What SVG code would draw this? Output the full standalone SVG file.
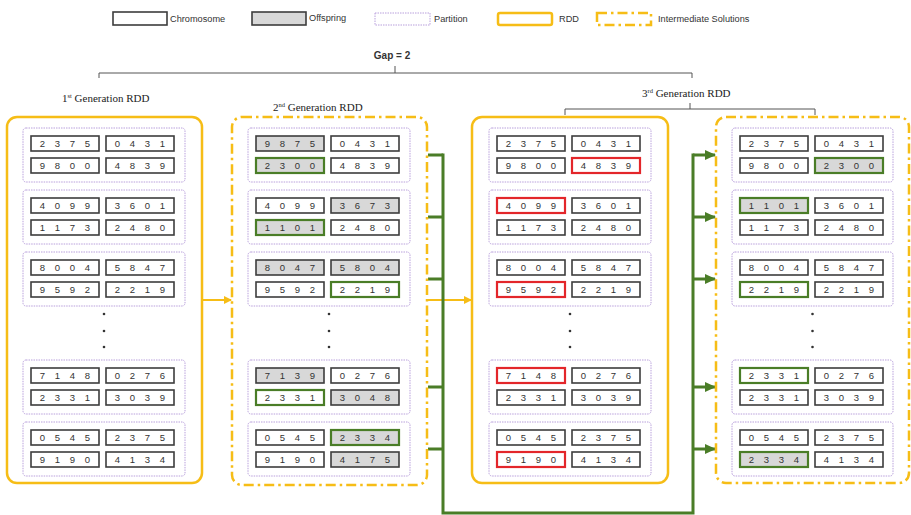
<svg xmlns="http://www.w3.org/2000/svg" width="911" height="515" viewBox="0 0 911 515">
<style>
text{font-family:"Liberation Sans",Arial,sans-serif;fill:#333}
.d{font-size:9.5px;text-anchor:middle}
.c{fill:#fff;stroke:#3d3d3d;stroke-width:1.6}
.o{fill:#d8d8d8;stroke:#3d3d3d;stroke-width:1.6}
.g{stroke:#4a7d27;stroke-width:2.2}
.r{fill:#fff;stroke:#e3262a;stroke-width:2.2}
.p{fill:none;stroke:#b9a0dc;stroke-width:1;stroke-dasharray:1.5 1}
.rdd{fill:none;stroke:#f6bd16;stroke-width:2.5}
.ins{fill:none;stroke:#f6bd16;stroke-width:2.5;stroke-dasharray:10 4 2.5 4}
.lg{font-size:9.2px;fill:#333}
.ti{font-family:"Liberation Serif","Times New Roman",serif;font-size:11px;fill:#222}
.br{fill:none;stroke:#555;stroke-width:1}
.dot{fill:#333}
.ya{stroke:#f6bd16;stroke-width:2;fill:none}
.gl{stroke:#4a7d27;stroke-width:3;fill:none}
</style>
<defs>
<marker id="ay" markerUnits="userSpaceOnUse" markerWidth="8" markerHeight="8" refX="7" refY="4" orient="auto"><path d="M0,0 L8,4 L0,8 z" fill="#f6bd16"/></marker>
<marker id="ag" markerUnits="userSpaceOnUse" markerWidth="11" markerHeight="10" refX="10" refY="5" orient="auto"><path d="M0,0 L11,5 L0,10 z" fill="#4a7d27"/></marker>
</defs>

<g id="legend">
<rect class="c" x="113" y="12" width="54" height="13"/><text class="lg" x="170" y="22">Chromosome</text>
<rect class="o" x="252" y="12" width="54" height="13"/><text class="lg" x="309" y="21">Offspring</text>
<rect class="p" x="375" y="13" width="55" height="12"/><text class="lg" x="434" y="22">Partition</text>
<rect class="rdd" x="498" y="13" width="54" height="12" rx="2"/><text class="lg" x="559" y="22">RDD</text>
<rect class="ins" x="597" y="13" width="54" height="12"/><text class="lg" x="658" y="22">Intermediate Solutions</text>
</g>

<g id="titles">
<text x="392" y="59" style="font-size:10px;font-weight:bold;text-anchor:middle">Gap = 2</text>
<path class="br" d="M99,78 V73 H692 V78 M395,73 V66"/>
<text class="ti" x="62" y="102">1<tspan font-size="6.5" dy="-4">st</tspan><tspan dy="4"> Generation RDD</tspan></text>
<text class="ti" x="273" y="111">2<tspan font-size="6.5" dy="-4">nd</tspan><tspan dy="4"> Generation RDD</tspan></text>
<text class="ti" x="642" y="97">3<tspan font-size="6.5" dy="-4">rd</tspan><tspan dy="4"> Generation RDD</tspan></text>
<path class="br" d="M565,115 V109 H815 V115 M690,109 V103"/>
</g>

<g id="connectors">
<line class="ya" x1="203" y1="300" x2="231" y2="300" marker-end="url(#ay)"/>
<line class="ya" x1="428" y1="300" x2="471" y2="300" marker-end="url(#ay)"/>
<path class="gl" d="M428,155 H443 M428,217 H443 M428,279 H443 M428,387 H443 M428,449 H443"/>
<path class="gl" d="M443,153.5 V513 H693 V153.5"/>
<path class="gl" d="M693,155 H715" marker-end="url(#ag)"/>
<path class="gl" d="M693,217 H715" marker-end="url(#ag)"/>
<path class="gl" d="M693,279 H715" marker-end="url(#ag)"/>
<path class="gl" d="M693,387 H715" marker-end="url(#ag)"/>
<path class="gl" d="M693,449 H715" marker-end="url(#ag)"/>
</g>

<g id="rdd1">
<rect class="rdd" x="7" y="117" width="195" height="366" rx="10"/>
<rect class="p" x="23" y="128" width="162" height="54" rx="3"/>
<rect class="p" x="23" y="190" width="162" height="54" rx="3"/>
<rect class="p" x="23" y="252" width="162" height="54" rx="3"/>
<rect class="p" x="23" y="360" width="162" height="54" rx="3"/>
<rect class="p" x="23" y="422" width="162" height="54" rx="3"/>
<circle class="dot" cx="104" cy="314" r="1.3"/><circle class="dot" cx="104" cy="331" r="1.3"/><circle class="dot" cx="104" cy="347" r="1.3"/>
<g transform="translate(31,136)"><rect class="c" width="68" height="15"/><text class="d" x="11.5 26.5 41.5 56.5" y="11">2375</text></g>
<g transform="translate(106,136)"><rect class="c" width="68" height="15"/><text class="d" x="11.5 26.5 41.5 56.5" y="11">0431</text></g>
<g transform="translate(31,158)"><rect class="c" width="68" height="15"/><text class="d" x="11.5 26.5 41.5 56.5" y="11">9800</text></g>
<g transform="translate(106,158)"><rect class="c" width="68" height="15"/><text class="d" x="11.5 26.5 41.5 56.5" y="11">4839</text></g>
<g transform="translate(31,198)"><rect class="c" width="68" height="15"/><text class="d" x="11.5 26.5 41.5 56.5" y="11">4099</text></g>
<g transform="translate(106,198)"><rect class="c" width="68" height="15"/><text class="d" x="11.5 26.5 41.5 56.5" y="11">3601</text></g>
<g transform="translate(31,220)"><rect class="c" width="68" height="15"/><text class="d" x="11.5 26.5 41.5 56.5" y="11">1173</text></g>
<g transform="translate(106,220)"><rect class="c" width="68" height="15"/><text class="d" x="11.5 26.5 41.5 56.5" y="11">2480</text></g>
<g transform="translate(31,260)"><rect class="c" width="68" height="15"/><text class="d" x="11.5 26.5 41.5 56.5" y="11">8004</text></g>
<g transform="translate(106,260)"><rect class="c" width="68" height="15"/><text class="d" x="11.5 26.5 41.5 56.5" y="11">5847</text></g>
<g transform="translate(31,282)"><rect class="c" width="68" height="15"/><text class="d" x="11.5 26.5 41.5 56.5" y="11">9592</text></g>
<g transform="translate(106,282)"><rect class="c" width="68" height="15"/><text class="d" x="11.5 26.5 41.5 56.5" y="11">2219</text></g>
<g transform="translate(31,368)"><rect class="c" width="68" height="15"/><text class="d" x="11.5 26.5 41.5 56.5" y="11">7148</text></g>
<g transform="translate(106,368)"><rect class="c" width="68" height="15"/><text class="d" x="11.5 26.5 41.5 56.5" y="11">0276</text></g>
<g transform="translate(31,390)"><rect class="c" width="68" height="15"/><text class="d" x="11.5 26.5 41.5 56.5" y="11">2331</text></g>
<g transform="translate(106,390)"><rect class="c" width="68" height="15"/><text class="d" x="11.5 26.5 41.5 56.5" y="11">3039</text></g>
<g transform="translate(31,430)"><rect class="c" width="68" height="15"/><text class="d" x="11.5 26.5 41.5 56.5" y="11">0545</text></g>
<g transform="translate(106,430)"><rect class="c" width="68" height="15"/><text class="d" x="11.5 26.5 41.5 56.5" y="11">2375</text></g>
<g transform="translate(31,452)"><rect class="c" width="68" height="15"/><text class="d" x="11.5 26.5 41.5 56.5" y="11">9190</text></g>
<g transform="translate(106,452)"><rect class="c" width="68" height="15"/><text class="d" x="11.5 26.5 41.5 56.5" y="11">4134</text></g>
</g>

<g id="rdd2">
<rect class="ins" x="232" y="117" width="195" height="368" rx="10"/>
<rect class="p" x="248" y="128" width="162" height="54" rx="3"/>
<rect class="p" x="248" y="190" width="162" height="54" rx="3"/>
<rect class="p" x="248" y="252" width="162" height="54" rx="3"/>
<rect class="p" x="248" y="360" width="162" height="54" rx="3"/>
<rect class="p" x="248" y="422" width="162" height="54" rx="3"/>
<circle class="dot" cx="329" cy="314" r="1.3"/><circle class="dot" cx="329" cy="331" r="1.3"/><circle class="dot" cx="329" cy="347" r="1.3"/>
<g transform="translate(256,136)"><rect class="o" width="68" height="15"/><text class="d" x="11.5 26.5 41.5 56.5" y="11">9875</text></g>
<g transform="translate(331,136)"><rect class="c" width="68" height="15"/><text class="d" x="11.5 26.5 41.5 56.5" y="11">0431</text></g>
<g transform="translate(256,158)"><rect class="o g" width="68" height="15"/><text class="d" x="11.5 26.5 41.5 56.5" y="11">2300</text></g>
<g transform="translate(331,158)"><rect class="c" width="68" height="15"/><text class="d" x="11.5 26.5 41.5 56.5" y="11">4839</text></g>
<g transform="translate(256,198)"><rect class="c" width="68" height="15"/><text class="d" x="11.5 26.5 41.5 56.5" y="11">4099</text></g>
<g transform="translate(331,198)"><rect class="o" width="68" height="15"/><text class="d" x="11.5 26.5 41.5 56.5" y="11">3673</text></g>
<g transform="translate(256,220)"><rect class="o g" width="68" height="15"/><text class="d" x="11.5 26.5 41.5 56.5" y="11">1101</text></g>
<g transform="translate(331,220)"><rect class="c" width="68" height="15"/><text class="d" x="11.5 26.5 41.5 56.5" y="11">2480</text></g>
<g transform="translate(256,260)"><rect class="o" width="68" height="15"/><text class="d" x="11.5 26.5 41.5 56.5" y="11">8047</text></g>
<g transform="translate(331,260)"><rect class="o" width="68" height="15"/><text class="d" x="11.5 26.5 41.5 56.5" y="11">5804</text></g>
<g transform="translate(256,282)"><rect class="c" width="68" height="15"/><text class="d" x="11.5 26.5 41.5 56.5" y="11">9592</text></g>
<g transform="translate(331,282)"><rect class="c g" width="68" height="15"/><text class="d" x="11.5 26.5 41.5 56.5" y="11">2219</text></g>
<g transform="translate(256,368)"><rect class="o" width="68" height="15"/><text class="d" x="11.5 26.5 41.5 56.5" y="11">7139</text></g>
<g transform="translate(331,368)"><rect class="c" width="68" height="15"/><text class="d" x="11.5 26.5 41.5 56.5" y="11">0276</text></g>
<g transform="translate(256,390)"><rect class="c g" width="68" height="15"/><text class="d" x="11.5 26.5 41.5 56.5" y="11">2331</text></g>
<g transform="translate(331,390)"><rect class="o" width="68" height="15"/><text class="d" x="11.5 26.5 41.5 56.5" y="11">3048</text></g>
<g transform="translate(256,430)"><rect class="c" width="68" height="15"/><text class="d" x="11.5 26.5 41.5 56.5" y="11">0545</text></g>
<g transform="translate(331,430)"><rect class="o g" width="68" height="15"/><text class="d" x="11.5 26.5 41.5 56.5" y="11">2334</text></g>
<g transform="translate(256,452)"><rect class="c" width="68" height="15"/><text class="d" x="11.5 26.5 41.5 56.5" y="11">9190</text></g>
<g transform="translate(331,452)"><rect class="o" width="68" height="15"/><text class="d" x="11.5 26.5 41.5 56.5" y="11">4175</text></g>
</g>

<g id="rdd3">
<rect class="rdd" x="472" y="117" width="196" height="366" rx="10"/>
<rect class="p" x="489" y="128" width="162" height="54" rx="3"/>
<rect class="p" x="489" y="190" width="162" height="54" rx="3"/>
<rect class="p" x="489" y="252" width="162" height="54" rx="3"/>
<rect class="p" x="489" y="360" width="162" height="54" rx="3"/>
<rect class="p" x="489" y="422" width="162" height="54" rx="3"/>
<circle class="dot" cx="570" cy="314" r="1.3"/><circle class="dot" cx="570" cy="331" r="1.3"/><circle class="dot" cx="570" cy="347" r="1.3"/>
<g transform="translate(497,136)"><rect class="c" width="68" height="15"/><text class="d" x="11.5 26.5 41.5 56.5" y="11">2375</text></g>
<g transform="translate(572,136)"><rect class="c" width="68" height="15"/><text class="d" x="11.5 26.5 41.5 56.5" y="11">0431</text></g>
<g transform="translate(497,158)"><rect class="c" width="68" height="15"/><text class="d" x="11.5 26.5 41.5 56.5" y="11">9800</text></g>
<g transform="translate(572,158)"><rect class="r" width="68" height="15"/><text class="d" x="11.5 26.5 41.5 56.5" y="11">4839</text></g>
<g transform="translate(497,198)"><rect class="r" width="68" height="15"/><text class="d" x="11.5 26.5 41.5 56.5" y="11">4099</text></g>
<g transform="translate(572,198)"><rect class="c" width="68" height="15"/><text class="d" x="11.5 26.5 41.5 56.5" y="11">3601</text></g>
<g transform="translate(497,220)"><rect class="c" width="68" height="15"/><text class="d" x="11.5 26.5 41.5 56.5" y="11">1173</text></g>
<g transform="translate(572,220)"><rect class="c" width="68" height="15"/><text class="d" x="11.5 26.5 41.5 56.5" y="11">2480</text></g>
<g transform="translate(497,260)"><rect class="c" width="68" height="15"/><text class="d" x="11.5 26.5 41.5 56.5" y="11">8004</text></g>
<g transform="translate(572,260)"><rect class="c" width="68" height="15"/><text class="d" x="11.5 26.5 41.5 56.5" y="11">5847</text></g>
<g transform="translate(497,282)"><rect class="r" width="68" height="15"/><text class="d" x="11.5 26.5 41.5 56.5" y="11">9592</text></g>
<g transform="translate(572,282)"><rect class="c" width="68" height="15"/><text class="d" x="11.5 26.5 41.5 56.5" y="11">2219</text></g>
<g transform="translate(497,368)"><rect class="r" width="68" height="15"/><text class="d" x="11.5 26.5 41.5 56.5" y="11">7148</text></g>
<g transform="translate(572,368)"><rect class="c" width="68" height="15"/><text class="d" x="11.5 26.5 41.5 56.5" y="11">0276</text></g>
<g transform="translate(497,390)"><rect class="c" width="68" height="15"/><text class="d" x="11.5 26.5 41.5 56.5" y="11">2331</text></g>
<g transform="translate(572,390)"><rect class="c" width="68" height="15"/><text class="d" x="11.5 26.5 41.5 56.5" y="11">3039</text></g>
<g transform="translate(497,430)"><rect class="c" width="68" height="15"/><text class="d" x="11.5 26.5 41.5 56.5" y="11">0545</text></g>
<g transform="translate(572,430)"><rect class="c" width="68" height="15"/><text class="d" x="11.5 26.5 41.5 56.5" y="11">2375</text></g>
<g transform="translate(497,452)"><rect class="r" width="68" height="15"/><text class="d" x="11.5 26.5 41.5 56.5" y="11">9190</text></g>
<g transform="translate(572,452)"><rect class="c" width="68" height="15"/><text class="d" x="11.5 26.5 41.5 56.5" y="11">4134</text></g>
</g>

<g id="rdd4">
<rect class="ins" x="716" y="117" width="193" height="366" rx="10"/>
<rect class="p" x="732" y="128" width="161" height="54" rx="3"/>
<rect class="p" x="732" y="190" width="161" height="54" rx="3"/>
<rect class="p" x="732" y="252" width="161" height="54" rx="3"/>
<rect class="p" x="732" y="360" width="161" height="54" rx="3"/>
<rect class="p" x="732" y="422" width="161" height="54" rx="3"/>
<circle class="dot" cx="812.5" cy="314" r="1.3"/><circle class="dot" cx="812.5" cy="331" r="1.3"/><circle class="dot" cx="812.5" cy="347" r="1.3"/>
<g transform="translate(740,136)"><rect class="c" width="68" height="15"/><text class="d" x="11.5 26.5 41.5 56.5" y="11">2375</text></g>
<g transform="translate(815,136)"><rect class="c" width="68" height="15"/><text class="d" x="11.5 26.5 41.5 56.5" y="11">0431</text></g>
<g transform="translate(740,158)"><rect class="c" width="68" height="15"/><text class="d" x="11.5 26.5 41.5 56.5" y="11">9800</text></g>
<g transform="translate(815,158)"><rect class="o g" width="68" height="15"/><text class="d" x="11.5 26.5 41.5 56.5" y="11">2300</text></g>
<g transform="translate(740,198)"><rect class="o g" width="68" height="15"/><text class="d" x="11.5 26.5 41.5 56.5" y="11">1101</text></g>
<g transform="translate(815,198)"><rect class="c" width="68" height="15"/><text class="d" x="11.5 26.5 41.5 56.5" y="11">3601</text></g>
<g transform="translate(740,220)"><rect class="c" width="68" height="15"/><text class="d" x="11.5 26.5 41.5 56.5" y="11">1173</text></g>
<g transform="translate(815,220)"><rect class="c" width="68" height="15"/><text class="d" x="11.5 26.5 41.5 56.5" y="11">2480</text></g>
<g transform="translate(740,260)"><rect class="c" width="68" height="15"/><text class="d" x="11.5 26.5 41.5 56.5" y="11">8004</text></g>
<g transform="translate(815,260)"><rect class="c" width="68" height="15"/><text class="d" x="11.5 26.5 41.5 56.5" y="11">5847</text></g>
<g transform="translate(740,282)"><rect class="c g" width="68" height="15"/><text class="d" x="11.5 26.5 41.5 56.5" y="11">2219</text></g>
<g transform="translate(815,282)"><rect class="c" width="68" height="15"/><text class="d" x="11.5 26.5 41.5 56.5" y="11">2219</text></g>
<g transform="translate(740,368)"><rect class="c g" width="68" height="15"/><text class="d" x="11.5 26.5 41.5 56.5" y="11">2331</text></g>
<g transform="translate(815,368)"><rect class="c" width="68" height="15"/><text class="d" x="11.5 26.5 41.5 56.5" y="11">0276</text></g>
<g transform="translate(740,390)"><rect class="c" width="68" height="15"/><text class="d" x="11.5 26.5 41.5 56.5" y="11">2331</text></g>
<g transform="translate(815,390)"><rect class="c" width="68" height="15"/><text class="d" x="11.5 26.5 41.5 56.5" y="11">3039</text></g>
<g transform="translate(740,430)"><rect class="c" width="68" height="15"/><text class="d" x="11.5 26.5 41.5 56.5" y="11">0545</text></g>
<g transform="translate(815,430)"><rect class="c" width="68" height="15"/><text class="d" x="11.5 26.5 41.5 56.5" y="11">2375</text></g>
<g transform="translate(740,452)"><rect class="o g" width="68" height="15"/><text class="d" x="11.5 26.5 41.5 56.5" y="11">2334</text></g>
<g transform="translate(815,452)"><rect class="c" width="68" height="15"/><text class="d" x="11.5 26.5 41.5 56.5" y="11">4134</text></g>
</g>
</svg>
